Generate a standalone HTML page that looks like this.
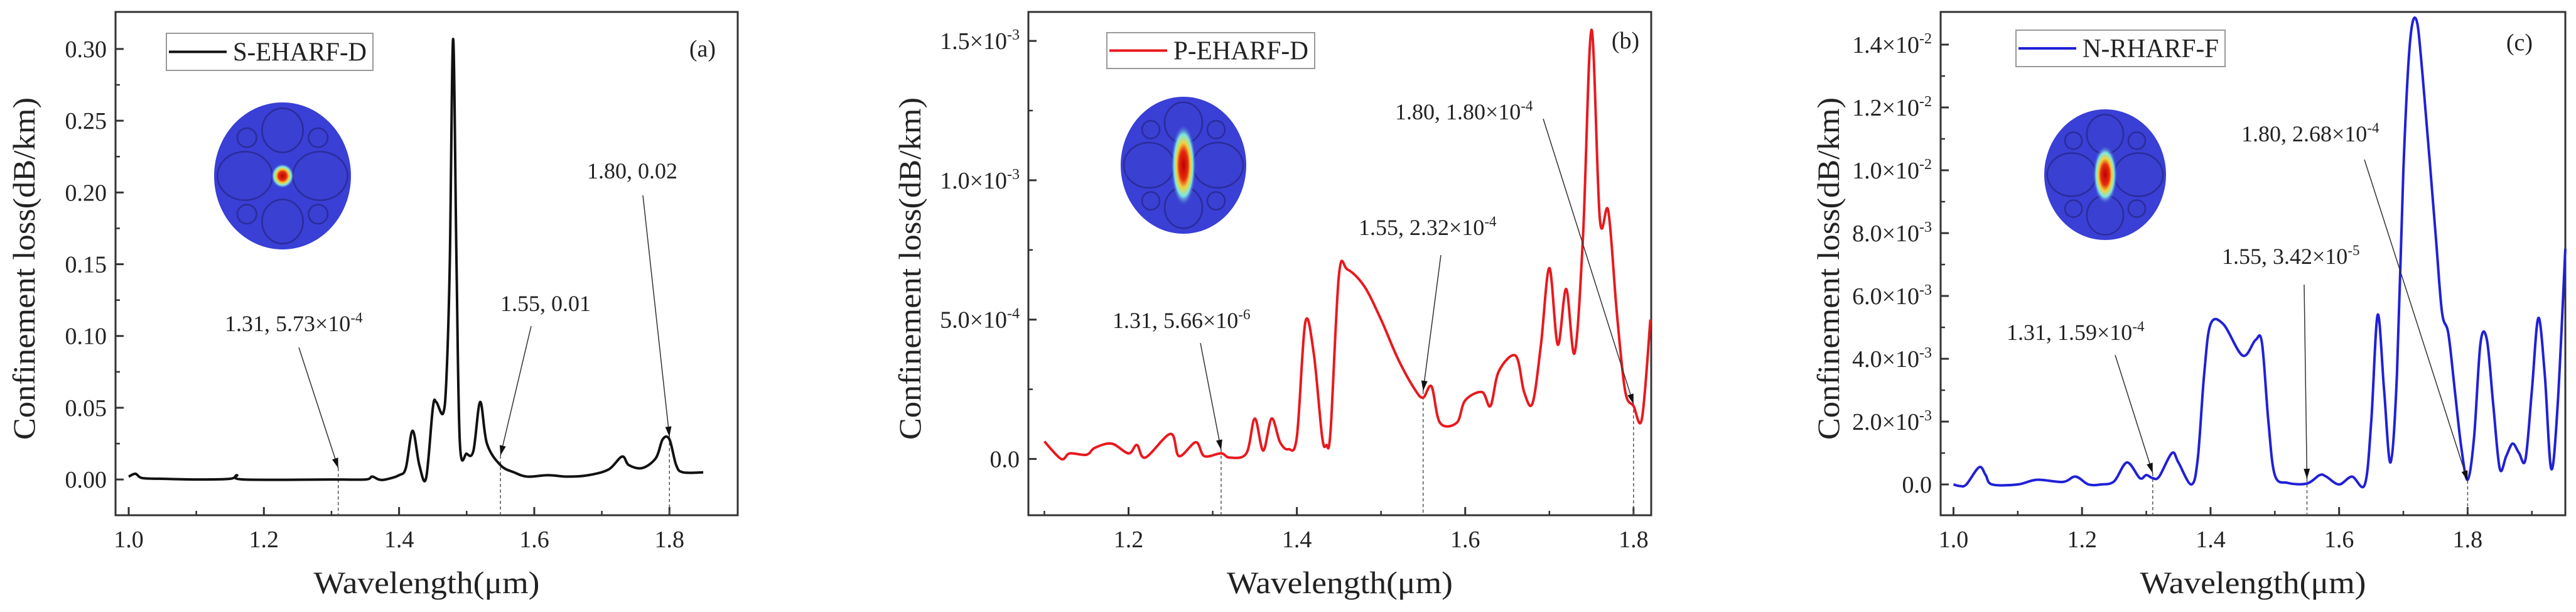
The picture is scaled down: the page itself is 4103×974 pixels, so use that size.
<!DOCTYPE html>
<html><head><meta charset="utf-8"><style>
html,body{margin:0;padding:0;background:#fff;overflow:hidden}
svg{display:block}
text{font-family:"Liberation Serif",serif;fill:#222}
</style></head><body>
<svg id="chart" width="4103" height="974" viewBox="0 0 4103 974" xmlns="http://www.w3.org/2000/svg">
<defs>
<radialGradient id="hot" cx="50%" cy="50%" r="50%">
<stop offset="0" stop-color="#c00000"/><stop offset="0.35" stop-color="#e52a10"/><stop offset="0.55" stop-color="#f2d23a"/><stop offset="0.75" stop-color="#7fe8e0"/><stop offset="1" stop-color="#3a3fd6" stop-opacity="0"/>
</radialGradient>
</defs>
</svg>
<script>
// Panel (a) data
const aX=[1.00,1.01,1.02,1.05,1.10,1.15,1.16,1.17,1.30,1.35,1.36,1.37,1.38,1.40,1.41,1.42,1.43,1.44,1.45,1.455,1.465,1.47,1.475,1.48,1.485,1.49,1.50,1.51,1.52,1.53,1.55,1.57,1.59,1.62,1.65,1.68,1.71,1.73,1.74,1.76,1.78,1.79,1.80,1.81,1.82,1.85];
const aY=[0.002,0.004,0.001,0.0005,0.0,0.0005,0.003,0.0,0.0,0.0,0.002,0.0,0.0,0.003,0.008,0.034,0.01,0.001,0.05,0.054,0.046,0.07,0.15,0.307,0.15,0.025,0.018,0.02,0.054,0.025,0.01,0.005,0.002,0.003,0.002,0.003,0.007,0.016,0.01,0.008,0.015,0.028,0.028,0.01,0.005,0.005];
// Panel (b) data (x1e-4)
const bX=[1.10,1.12,1.13,1.15,1.16,1.18,1.20,1.21,1.22,1.25,1.26,1.28,1.29,1.31,1.32,1.34,1.35,1.36,1.37,1.38,1.39,1.40,1.41,1.42,1.43,1.435,1.44,1.45,1.46,1.48,1.50,1.52,1.54,1.55,1.56,1.57,1.59,1.60,1.62,1.63,1.64,1.66,1.67,1.68,1.69,1.70,1.71,1.72,1.73,1.74,1.75,1.76,1.77,1.78,1.79,1.80,1.81,1.82];
const bY=[0.63,0.0,0.2,0.15,0.4,0.55,0.2,0.5,0.05,0.9,0.1,0.6,0.1,0.2,0.05,0.2,1.45,0.3,1.45,0.6,0.35,0.8,4.9,3.8,0.8,0.5,1.0,6.6,6.8,6.2,5.0,3.6,2.5,2.2,2.6,1.3,1.3,2.1,2.4,1.9,3.15,3.7,2.4,2.0,4.1,6.85,4.1,6.1,3.8,8.0,15.4,8.6,8.9,5.3,2.45,1.9,1.45,5.0];
// Panel (c) data (x1e-3)
const cX=[1.00,1.01,1.02,1.04,1.05,1.06,1.10,1.13,1.17,1.19,1.21,1.23,1.25,1.27,1.29,1.30,1.31,1.32,1.34,1.35,1.37,1.38,1.39,1.40,1.42,1.45,1.47,1.48,1.49,1.50,1.52,1.55,1.57,1.58,1.60,1.62,1.64,1.65,1.66,1.67,1.68,1.69,1.70,1.71,1.72,1.73,1.75,1.76,1.77,1.78,1.79,1.80,1.81,1.82,1.83,1.84,1.85,1.86,1.87,1.88,1.89,1.90,1.91,1.92,1.93,1.94,1.952];
const cY=[0,-0.05,0,0.55,0.3,0,0,0.15,0.08,0.25,0,0,0.1,0.7,0.2,0.3,0.2,0.25,1.0,0.7,0,0.8,3.5,5.1,5.1,4.1,4.6,4.5,2.0,0.3,0.05,0.03,0.3,0.25,0,0.25,0,2.0,5.4,3.0,0.7,3.5,10.0,14.0,14.8,13.0,8.0,5.5,4.8,3.0,1.2,0.15,1.5,4.5,4.6,2.5,0.5,0.9,1.3,1.0,0.8,3.0,5.3,3.5,0.5,2.5,7.5];
const aXTicks=[1.0,1.2,1.4,1.6,1.8];
const aXLabels=["1.0","1.2","1.4","1.6","1.8"];
const aYTicks=[0,0.05,0.10,0.15,0.20,0.25,0.30];
const aYLabels=["0.00","0.05","0.10","0.15","0.20","0.25","0.30"];
const bXTicks=[1.2,1.4,1.6,1.8];
const bXLabels=["1.2","1.4","1.6","1.8"];
const bYTicks=[0,5,10,15];
const bYLabels=[["0.0",""],["5.0×10","-4"],["1.0×10","-3"],["1.5×10","-3"]];
const cXTicks=[1.0,1.2,1.4,1.6,1.8];
const cXLabels=["1.0","1.2","1.4","1.6","1.8"];
const cYTicks=[0,2,4,6,8,10,12,14];
const cYLabels=[["0.0",""],["2.0×10","-3"],["4.0×10","-3"],["6.0×10","-3"],["8.0×10","-3"],["1.0×10","-2"],["1.2×10","-2"],["1.4×10","-2"]];

const NS="http://www.w3.org/2000/svg";
const svg=document.getElementById('chart');
function mk(tag,attrs,parent){const e=document.createElementNS(NS,tag);for(const k in attrs)e.setAttribute(k,attrs[k]);(parent||svg).appendChild(e);return e;}

function panel(cfg){
  const g=mk('g',{});
  
  
  const L=cfg.box[0],R=cfg.box[1],T=cfg.box[2],B=cfg.box[3];
  const sx=v=>L+(v-cfg.xr[0])/(cfg.xr[1]-cfg.xr[0])*(R-L);
  const sy=v=>B-(v-cfg.yr[0])/(cfg.yr[1]-cfg.yr[0])*(B-T);
  const fr=mk('rect',{x:L,y:T,width:R-L,height:B-T,fill:'none',stroke:'#333','stroke-width':3},g);
  
  
  cfg.xt.forEach((v,i)=>{
    const x=sx(v);
    const t=mk('line',{x1:x,x2:x,y1:B,y2:B-13,stroke:'#333','stroke-width':3},g);
    
    
    const m=sx(v+cfg.xminor);
    if(m<R-2){const mt=mk('line',{x1:m,x2:m,y1:B,y2:B-7,stroke:'#333','stroke-width':2.5},g);
      
      }
    const lb=mk('text',{x:x,y:B+51,'font-size':38,'text-anchor':'middle'},g);
    lb.textContent=cfg.xl[i];
    
    
  });
  {const m=sx(cfg.xt[0]-cfg.xminor); if(m>L+2){const mt=mk('line',{x1:m,x2:m,y1:B,y2:B-7,stroke:'#333','stroke-width':2.5},g);
      
      }}
  cfg.yt.forEach((v,i)=>{
    const y=sy(v);
    const t=mk('line',{x1:L,x2:L+13,y1:y,y2:y,stroke:'#333','stroke-width':3},g);
    
    
    const m=sy(v+cfg.yminor);
    if(m>T+2){const mt=mk('line',{x1:L,x2:L+7,y1:m,y2:m,stroke:'#333','stroke-width':2.5},g);
      
      }
    const lb=mk('text',{x:L-14,y:y+13,'font-size':38,'text-anchor':'end'},g);
    
    
    const l=cfg.yl[i];
    if(Array.isArray(l)){
      if(l[1]){const t1=mk('tspan',{},lb);t1.textContent=l[0];const t2=mk('tspan',{dy:-15,'font-size':24},lb);t2.textContent=l[1];}
      else lb.textContent=l[0];
    } else lb.textContent=l;
  });
  {const m=sy(cfg.yt[0]-cfg.yminor); if(m<B-2){const mt=mk('line',{x1:L,x2:L+7,y1:m,y2:m,stroke:'#333','stroke-width':2.5},g);
      
      }}
  const xt=mk('text',{x:(L+R)/2,y:B+124,'font-size':50,'text-anchor':'middle',textLength:360,lengthAdjust:'spacingAndGlyphs'},g);
  xt.textContent='Wavelength(μm)';
  
  
  const yt=mk('text',{x:0,y:0,'font-size':50,'text-anchor':'middle',textLength:545,lengthAdjust:'spacingAndGlyphs',transform:`translate(${cfg.ytx},${(T+B)/2+8}) rotate(-90)`},g);
  yt.textContent='Confinement loss(dB/km)';
  
  
  const ins=mk('g',{},g);
  
  
  const [cx,cy,rx,ry]=cfg.inset;
  mk('ellipse',{cx:cx,cy:cy,rx:rx,ry:ry,fill:'#3a3fd6'},ins);
  const st={fill:'#3a40d2',stroke:'#2a2c9a','stroke-width':2.5};
  [[0,-0.62,0.3,0.3],[0,0.62,0.3,0.3],[-0.55,0,0.4,0.33],[0.55,0,0.4,0.33],[-0.52,-0.52,0.14,0.13],[0.52,-0.52,0.14,0.13],[-0.52,0.52,0.14,0.13],[0.52,0.52,0.14,0.13]].forEach(c=>{
    mk('ellipse',Object.assign({cx:cx+c[0]*rx,cy:cy+c[1]*ry,rx:c[2]*rx,ry:c[3]*ry},st),ins);
  });
  mk('ellipse',{cx:cx,cy:cy,rx:rx*cfg.hot[0],ry:ry*cfg.hot[1],fill:'url(#hot)'},ins);
  const n=cfg.x.length;
  const pts=cfg.x.map((v,i)=>[sx(v),sy(cfg.y[i])]);
  let d=`M${pts[0][0]},${pts[0][1]}`;
  for(let i=0;i<n-1;i++){
    const p0=pts[Math.max(0,i-1)],p1=pts[i],p2=pts[i+1],p3=pts[Math.min(n-1,i+2)];
    const k=1/6;
    d+=` C${p1[0]+(p2[0]-p0[0])*k},${p1[1]+(p2[1]-p0[1])*k} ${p2[0]-(p3[0]-p1[0])*k},${p2[1]-(p3[1]-p1[1])*k} ${p2[0]},${p2[1]}`;
  }
  cfg.ann.forEach(a=>{
    const x=sx(a.x);
    const dl=mk('line',{x1:x,x2:x,y1:a.ty,y2:B,stroke:'#555','stroke-width':1.5,'stroke-dasharray':'5,4'},g);
    
    
  });
  const cl=mk('path',{d:d,fill:'none',stroke:cfg.color,'stroke-width':4,'stroke-linejoin':'round'},g);
  
  
  cfg.ann.forEach(a=>{
    const ag=mk('g',{},g);
    
    
    const x2=sx(a.x), y2=a.ty;
    mk('line',{x1:a.fx,y1:a.fy,x2:x2,y2:y2,stroke:'#333','stroke-width':1.5},ag);
    const ang=Math.atan2(y2-a.fy,x2-a.fx);
    const hl=16,hw=5;
    const bx=x2-hl*Math.cos(ang),by=y2-hl*Math.sin(ang);
    mk('polygon',{points:`${x2},${y2} ${bx+hw*Math.sin(ang)},${by-hw*Math.cos(ang)} ${bx-hw*Math.sin(ang)},${by+hw*Math.cos(ang)}`,fill:'#111'},ag);
    const tx=mk('text',{x:a.lx,y:a.ly,'font-size':36},ag);
    const t1=mk('tspan',{},tx);t1.textContent=a.t[0];
    if(a.t[1]){const t2=mk('tspan',{dy:-14,'font-size':23},tx);t2.textContent=a.t[1];}
  });
  const lg=mk('g',{},g);
  
  
  const [lx,ly,lw,lh]=cfg.leg;
  mk('rect',{x:lx,y:ly,width:lw,height:lh,fill:'#fff',stroke:'#999','stroke-width':2},lg);
  mk('line',{x1:lx+4,x2:lx+96,y1:ly+lh/2,y2:ly+lh/2,stroke:cfg.color,'stroke-width':4},lg);
  const lt=mk('text',{x:lx+106,y:ly+lh/2+14,'font-size':42,textLength:lw-116,lengthAdjust:'spacingAndGlyphs'},lg);
  lt.textContent=cfg.label;
  const pl=mk('text',{x:cfg.plabel[0],y:cfg.plabel[1],'font-size':38,'text-anchor':'middle'},g);
  pl.textContent=cfg.plabel[2];
  
  
}

panel({name:'panel-a',box:[184,1175,19,820],xr:[0.9805,1.901],yr:[-0.0249,0.3258],
  xt:aXTicks,xl:aXLabels,xminor:0.1,yt:aYTicks,yl:aYLabels,yminor:0.025,ytx:55,
  x:aX,y:aY,color:'#111',label:'S-EHARF-D',leg:[265,53,329,59],plabel:[1119,90,'(a)'],
  inset:[450,280,109,117],hot:[0.17,0.17],
  ann:[{x:1.31,ty:745,fx:476,fy:553,lx:358,ly:527,t:['1.31, 5.73×10','-4']},
       {x:1.55,ty:725,fx:846,fy:519,lx:797,ly:495,t:['1.55, 0.01','']},
       {x:1.80,ty:695,fx:1024,fy:311,lx:935,ly:284,t:['1.80, 0.02','']}]});
panel({name:'panel-b',box:[1638,2630,19,820],xr:[1.081,1.821],yr:[-2.02,16.04],
  xt:bXTicks,xl:bXLabels,xminor:0.1,yt:bYTicks,yl:bYLabels,yminor:2.5,ytx:1466,
  x:bX,y:bY,color:'#e8191e',label:'P-EHARF-D',leg:[1763,52,331,57],plabel:[2589,77,'(b)'],
  inset:[1885,263,100,109],hot:[0.2,0.6],
  ann:[{x:1.31,ty:716,fx:1912,fy:546,lx:1772,ly:522,t:['1.31, 5.66×10','-6']},
       {x:1.55,ty:622,fx:2295,fy:406,lx:2164,ly:374,t:['1.55, 2.32×10','-4']},
       {x:1.80,ty:643,fx:2458,fy:189,lx:2222,ly:190,t:['1.80, 1.80×10','-4']}]});
panel({name:'panel-c',box:[3091,4086,19,820],xr:[0.98,1.952],yr:[-0.98,15.04],
  xt:cXTicks,xl:cXLabels,xminor:0.1,yt:cYTicks,yl:cYLabels,yminor:1,ytx:2929,
  x:cX,y:cY,color:'#2020d8',label:'N-RHARF-F',leg:[3211,48,333,58],plabel:[4013,80,'(c)'],
  inset:[3353,278,97,104],hot:[0.2,0.45],
  ann:[{x:1.31,ty:753,fx:3369,fy:565,lx:3196,ly:541,t:['1.31, 1.59×10','-4']},
       {x:1.55,ty:762,fx:3670,fy:453,lx:3539,ly:420,t:['1.55, 3.42×10','-5']},
       {x:1.80,ty:765,fx:3766,fy:254,lx:3570,ly:225,t:['1.80, 2.68×10','-4']}]});
</script>
</body></html>
